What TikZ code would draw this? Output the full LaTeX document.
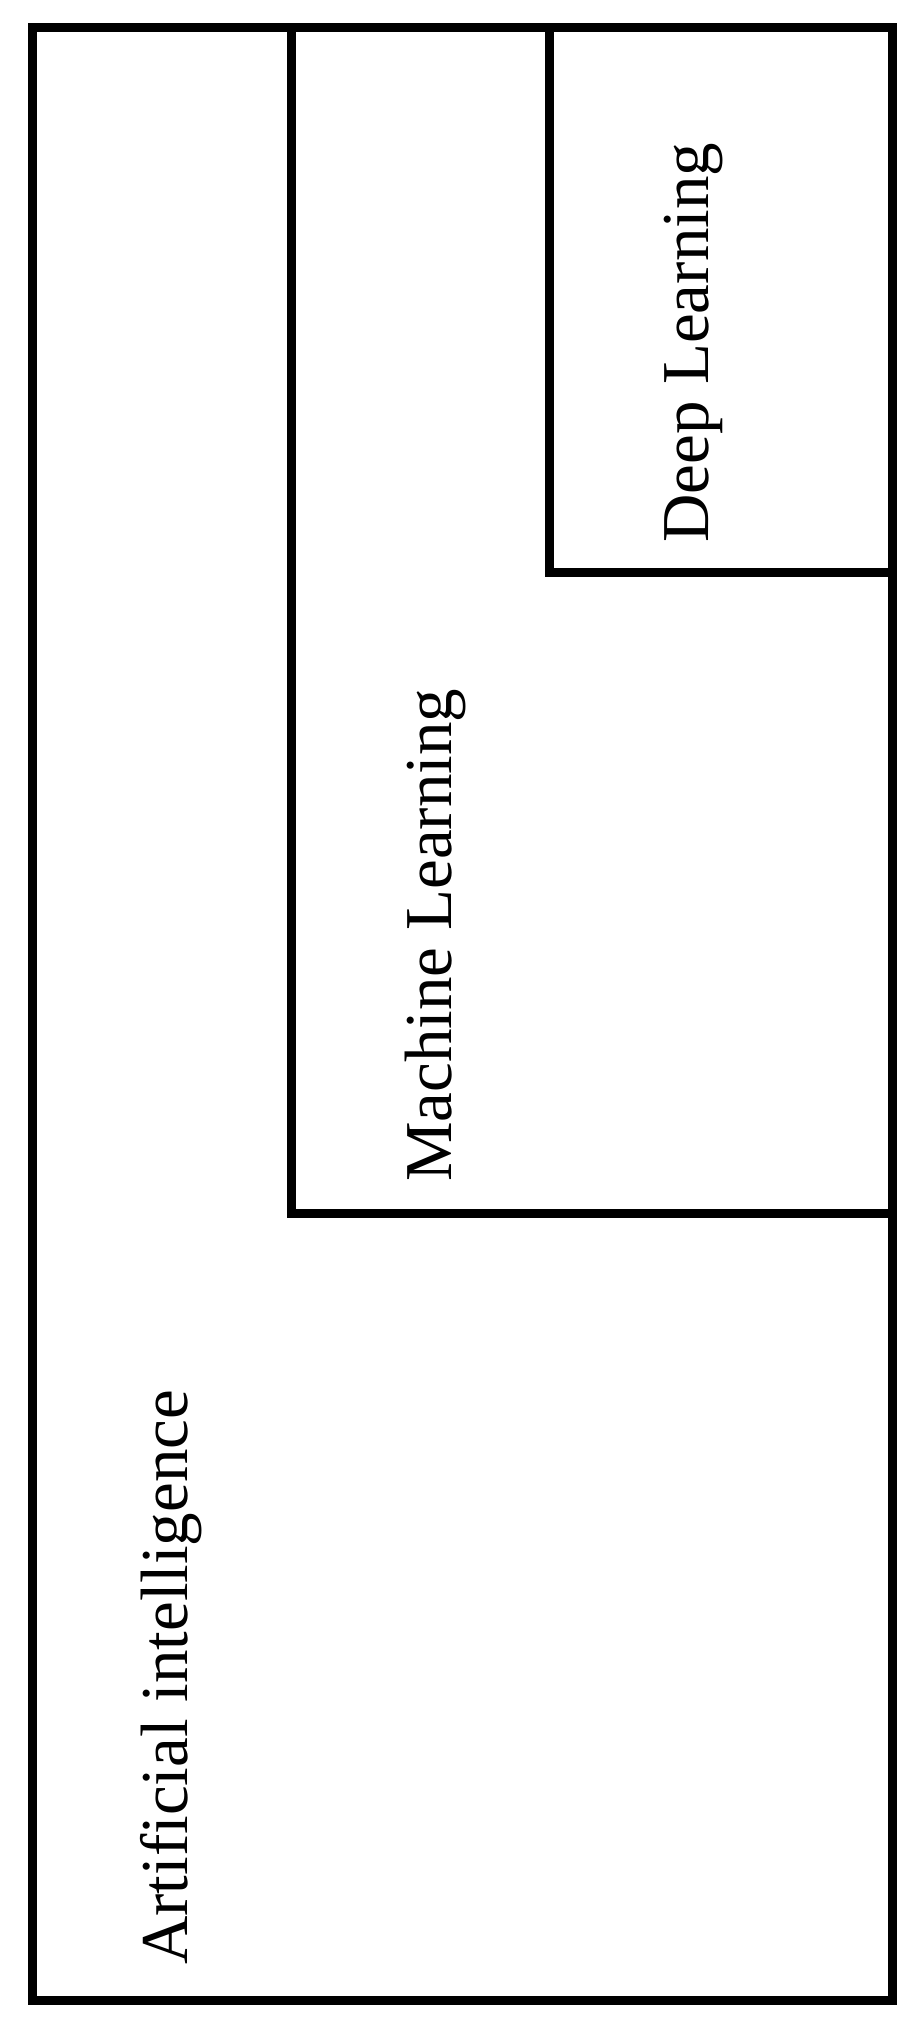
\documentclass[tikz,border=0pt]{standalone}
\usepackage{fontspec}
\setmainfont{Liberation Serif}

\tikzset{
    area/.style={draw, line width=9pt, line join=miter},
    label/.style={rotate=90, anchor=base west, inner sep=0pt, font=\fontsize{67}{74}\selectfont}
}

\begin{document}
\begin{tikzpicture}[x=1pt,y=-1pt]
        \useasboundingbox (0,0) rectangle (914,2030);

        \coordinate (ai) at (32.5,27);
        \coordinate (ml) at (291,27);
        \coordinate (dl) at (549,27);
        \coordinate (end) at (892,2000);

        \draw[area] (ai) rectangle (end);
        \draw[area] (ml) rectangle (892,1213);
        \draw[area] (dl) rectangle (892,572);

        \node[label] (tai) at (187,1965) {Artificial intelligence};
        \node[label] (tml) at (451,1182) {Machine Learning};
        \node[label] (tdl) at (708,543) {Deep Learning};
    \end{tikzpicture}
\end{document}
